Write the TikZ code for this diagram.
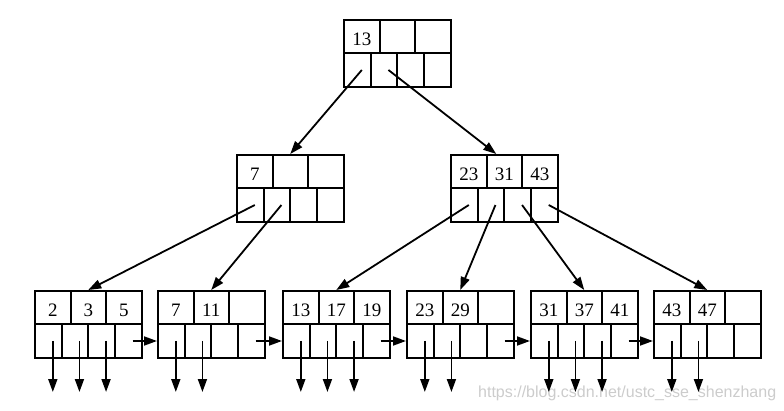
\documentclass[tikz,border=0pt]{standalone}
\usepackage{fontspec}
\setmainfont{Liberation Serif}
\newfontfamily\wmfont{Liberation Sans}
\usetikzlibrary{arrows.meta}

% one B+ tree node: name, left x, top y, three keys
\newcommand{\bnode}[6]{%
  \begin{scope}[shift={(#2,#3)}]
    \node[keycell] (#1-k1) at (17.75,16.5) {#4};
    \node[keycell] (#1-k2) at (53.25,16.5) {#5};
    \node[keycell] (#1-k3) at (88.75,16.5) {#6};
    \foreach \i in {1,...,4}
      \node[ptrcell] (#1-p\i) at (26.625*\i-13.3125,50) {};
  \end{scope}}

\begin{document}
\begin{tikzpicture}[x=1pt, y=-1pt,
    keycell/.style={draw, line width=2pt, minimum width=35.5pt,
      minimum height=33pt, inner sep=0pt, text height=19pt, text depth=0pt,
      font=\fontsize{19}{22}\selectfont},
    ptrcell/.style={draw, line width=2pt, minimum width=26.625pt,
      minimum height=34pt, inner sep=0pt},
    ptr/.style={line width=1.8pt, -{Triangle[length=13pt,width=9pt]}},
    wm/.style={black!20, font=\wmfont\fontsize{16}{18}\selectfont, inner sep=0pt}]
    \useasboundingbox (0,0) rectangle (784,411);
    % watermark
    \node[wm, anchor=base west] (wm) at (478,397) {https://blog.csdn.net/ustc\_sse\_shenzhang};
    % root
    \bnode{r}{344}{20}{13}{}{}
    % inner level
    \bnode{a}{237}{155}{7}{}{}
    \bnode{b}{451}{155}{23}{31}{43}
    % leaves
    \bnode{l1}{35}{291}{2}{3}{5}
    \bnode{l2}{158}{291}{7}{11}{}
    \bnode{l3}{283}{291}{13}{17}{19}
    \bnode{l4}{407}{291}{23}{29}{}
    \bnode{l5}{531}{291}{31}{37}{41}
    \bnode{l6}{654}{291}{43}{47}{}
    % child pointers
    \draw[ptr] ([xshift=4.5pt]r-p1.center) -- (a-k2.north);
    \draw[ptr] ([xshift=4.5pt]r-p2.center) -- ([xshift=-8pt]b-k2.north);
    \draw[ptr] ([xshift=4.5pt]a-p1.center) -- (l1-k2.north);
    \draw[ptr] ([xshift=4.5pt]a-p2.center) -- (l2-k2.north);
    \foreach \i/\l in {1/l3,2/l4,3/l5,4/l6}
      \draw[ptr] ([xshift=4.5pt]b-p\i.center) -- (\l-k2.north);
    % leaf chain
    \foreach \l/\m in {l1/l2,l2/l3,l3/l4,l4/l5,l5/l6}
      \draw[ptr] ([xshift=4.5pt]\l-p4.center) -- (\m-p1.west);
    % record pointers
    \foreach \l/\n in {l1/3,l2/2,l3/3,l4/2,l5/3,l6/2}
      \foreach \i in {1,...,\n} {
        \coordinate (\l-d\i) at ([xshift=4.5pt,yshift=-51pt]\l-p\i.center);
        \draw[ptr] ([xshift=4.5pt]\l-p\i.center) -- (\l-d\i);
      }
\end{tikzpicture}
\end{document}
